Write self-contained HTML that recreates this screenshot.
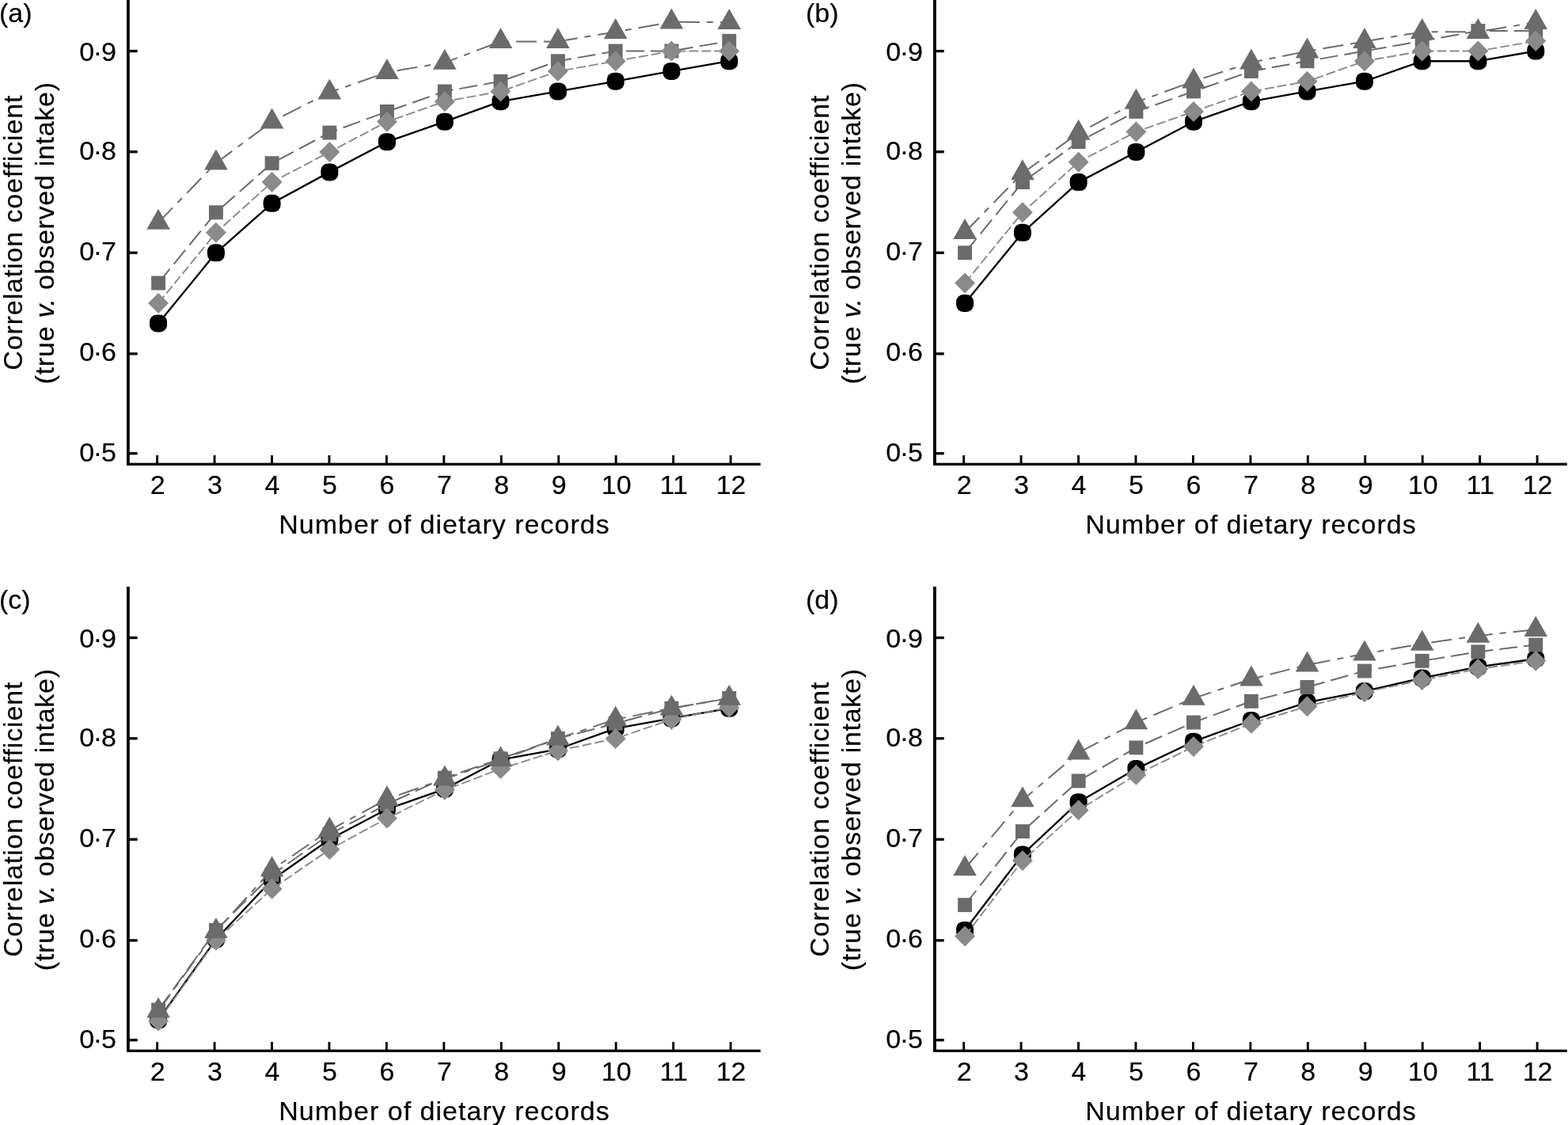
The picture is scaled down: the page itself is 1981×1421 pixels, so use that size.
<!DOCTYPE html>
<html><head><meta charset="utf-8"><title>Correlation coefficient vs number of dietary records</title>
<style>
html,body{margin:0;padding:0;background:#fff;}
body{width:1981px;height:1421px;overflow:hidden;}
svg{display:block;}
.t{font-family:'Liberation Sans', Arial, sans-serif;font-size:34px;fill:#000;stroke:#000;stroke-width:0.2px;}
</style></head><body>
<svg width="1981" height="1421" viewBox="0 0 1981 1421">
<rect width="1981" height="1421" fill="#fff"/>
<g transform="translate(0,0)">
<rect x="160" y="0" width="3.8" height="588" fill="#000"/>
<rect x="160" y="584.7" width="800.8" height="3.3" fill="#000"/>
<rect x="162" y="62.9" width="11.7" height="3.3" fill="#000"/>
<text x="146.8" y="76.6" text-anchor="end" class="t" textLength="46.6" lengthAdjust="spacing">0·9</text>
<rect x="162" y="190.1" width="11.7" height="3.3" fill="#000"/>
<text x="146.8" y="202.2" text-anchor="end" class="t" textLength="46.6" lengthAdjust="spacing">0·8</text>
<rect x="162" y="317.6" width="11.7" height="3.3" fill="#000"/>
<text x="146.8" y="329.4" text-anchor="end" class="t" textLength="46.6" lengthAdjust="spacing">0·7</text>
<rect x="162" y="445.2" width="11.7" height="3.3" fill="#000"/>
<text x="146.8" y="455.8" text-anchor="end" class="t" textLength="46.6" lengthAdjust="spacing">0·6</text>
<rect x="162" y="571.1" width="11.7" height="3.3" fill="#000"/>
<text x="146.8" y="582.7" text-anchor="end" class="t" textLength="46.6" lengthAdjust="spacing">0·5</text>
<rect x="197.15" y="575.1" width="2.9" height="10" fill="#000"/>
<text x="199.1" y="624" text-anchor="middle" class="t">2</text>
<rect x="269.6" y="575.1" width="2.9" height="10" fill="#000"/>
<text x="271.55" y="624" text-anchor="middle" class="t">3</text>
<rect x="342.05" y="575.1" width="2.9" height="10" fill="#000"/>
<text x="344" y="624" text-anchor="middle" class="t">4</text>
<rect x="414.5" y="575.1" width="2.9" height="10" fill="#000"/>
<text x="416.45" y="624" text-anchor="middle" class="t">5</text>
<rect x="486.95" y="575.1" width="2.9" height="10" fill="#000"/>
<text x="488.9" y="624" text-anchor="middle" class="t">6</text>
<rect x="559.4" y="575.1" width="2.9" height="10" fill="#000"/>
<text x="561.35" y="624" text-anchor="middle" class="t">7</text>
<rect x="631.85" y="575.1" width="2.9" height="10" fill="#000"/>
<text x="633.8" y="624" text-anchor="middle" class="t">8</text>
<rect x="704.3" y="575.1" width="2.9" height="10" fill="#000"/>
<text x="706.25" y="624" text-anchor="middle" class="t">9</text>
<rect x="776.75" y="575.1" width="2.9" height="10" fill="#000"/>
<text x="778.7" y="624" text-anchor="middle" class="t">10</text>
<rect x="849.2" y="575.1" width="2.9" height="10" fill="#000"/>
<text x="851.15" y="624" text-anchor="middle" class="t">11</text>
<rect x="921.65" y="575.1" width="2.9" height="10" fill="#000"/>
<text x="923.6" y="624" text-anchor="middle" class="t">12</text>
<text x="352.2" y="673.9" class="t" textLength="417.5" lengthAdjust="spacing">Number of dietary records</text>
<text transform="translate(28.2,467.7) rotate(-90)" class="t" textLength="347.2" lengthAdjust="spacing">Correlation coefficient</text>
<text transform="translate(68.3,485.2) rotate(-90)" class="t" textLength="381.2" lengthAdjust="spacing">(true <tspan font-style="italic">v.</tspan> observed intake)</text>
<text x="-1" y="28" class="t">(a)</text>
<polyline points="200.05,408.48 272.9,319.3 343.6,256.87 416.35,217.38 488.95,179.16 561.85,153.68 632.5,128.2 704.9,115.46 777.7,102.72 848.4,89.98 921.25,77.24" fill="none" stroke="#000" stroke-width="2.3" stroke-linejoin="round"/>
<rect x="189.05" y="397.48" width="22" height="22" rx="9" fill="#000"/>
<rect x="261.9" y="308.3" width="22" height="22" rx="9" fill="#000"/>
<rect x="332.6" y="245.87" width="22" height="22" rx="9" fill="#000"/>
<rect x="405.35" y="206.38" width="22" height="22" rx="9" fill="#000"/>
<rect x="477.95" y="168.16" width="22" height="22" rx="9" fill="#000"/>
<rect x="550.85" y="142.68" width="22" height="22" rx="9" fill="#000"/>
<rect x="621.5" y="117.2" width="22" height="22" rx="9" fill="#000"/>
<rect x="693.9" y="104.46" width="22" height="22" rx="9" fill="#000"/>
<rect x="766.7" y="91.72" width="22" height="22" rx="9" fill="#000"/>
<rect x="837.4" y="78.98" width="22" height="22" rx="9" fill="#000"/>
<rect x="910.25" y="66.24" width="22" height="22" rx="9" fill="#000"/>
<polyline points="200.05,357.52 272.9,268.34 343.6,206.17 416.35,167.57 488.95,140.94 561.85,115.46 632.5,102.72 704.9,77.24 777.7,64.5 848.4,64.5 921.25,51.76" fill="none" stroke="#6b6b6b" stroke-width="2" stroke-dasharray="23 8"/>
<rect x="191.1" y="348.57" width="17.9" height="17.9" fill="#6b6b6b"/>
<rect x="263.95" y="259.39" width="17.9" height="17.9" fill="#6b6b6b"/>
<rect x="334.65" y="197.22" width="17.9" height="17.9" fill="#6b6b6b"/>
<rect x="407.4" y="158.62" width="17.9" height="17.9" fill="#6b6b6b"/>
<rect x="480" y="131.99" width="17.9" height="17.9" fill="#6b6b6b"/>
<rect x="552.9" y="106.51" width="17.9" height="17.9" fill="#6b6b6b"/>
<rect x="623.55" y="93.77" width="17.9" height="17.9" fill="#6b6b6b"/>
<rect x="695.95" y="68.29" width="17.9" height="17.9" fill="#6b6b6b"/>
<rect x="768.75" y="55.55" width="17.9" height="17.9" fill="#6b6b6b"/>
<rect x="839.45" y="55.55" width="17.9" height="17.9" fill="#6b6b6b"/>
<rect x="912.3" y="42.81" width="17.9" height="17.9" fill="#6b6b6b"/>
<polyline points="200.05,383 272.9,293.82 343.6,230.12 416.35,191.9 488.95,153.68 561.85,128.2 632.5,115.46 704.9,89.98 777.7,77.24 848.4,64.5 921.25,64.5" fill="none" stroke="#8a8a8a" stroke-width="1.9" stroke-dasharray="12 4"/>
<path d="M200.05 370L213.05 383L200.05 396L187.05 383Z" fill="#8a8a8a"/>
<path d="M272.9 280.82L285.9 293.82L272.9 306.82L259.9 293.82Z" fill="#8a8a8a"/>
<path d="M343.6 217.12L356.6 230.12L343.6 243.12L330.6 230.12Z" fill="#8a8a8a"/>
<path d="M416.35 178.9L429.35 191.9L416.35 204.9L403.35 191.9Z" fill="#8a8a8a"/>
<path d="M488.95 140.68L501.95 153.68L488.95 166.68L475.95 153.68Z" fill="#8a8a8a"/>
<path d="M561.85 115.2L574.85 128.2L561.85 141.2L548.85 128.2Z" fill="#8a8a8a"/>
<path d="M632.5 102.46L645.5 115.46L632.5 128.46L619.5 115.46Z" fill="#8a8a8a"/>
<path d="M704.9 76.98L717.9 89.98L704.9 102.98L691.9 89.98Z" fill="#8a8a8a"/>
<path d="M777.7 64.24L790.7 77.24L777.7 90.24L764.7 77.24Z" fill="#8a8a8a"/>
<path d="M848.4 51.5L861.4 64.5L848.4 77.5L835.4 64.5Z" fill="#8a8a8a"/>
<path d="M921.25 51.5L934.25 64.5L921.25 77.5L908.25 64.5Z" fill="#8a8a8a"/>
<polyline points="200.05,281.08 272.9,205.91 343.6,153.68 416.35,116.73 488.95,91.25 561.85,79.15 632.5,52.4 704.9,52.4 777.7,40.29 848.4,27.81 921.25,28.19" fill="none" stroke="#6b6b6b" stroke-width="2" stroke-dasharray="26 9 8 9"/>
<path d="M200.05 263.78L214.85 289.78L185.25 289.78Z" fill="#6b6b6b"/>
<path d="M272.9 188.61L287.7 214.61L258.1 214.61Z" fill="#6b6b6b"/>
<path d="M343.6 136.38L358.4 162.38L328.8 162.38Z" fill="#6b6b6b"/>
<path d="M416.35 99.43L431.15 125.43L401.55 125.43Z" fill="#6b6b6b"/>
<path d="M488.95 73.95L503.75 99.95L474.15 99.95Z" fill="#6b6b6b"/>
<path d="M561.85 61.85L576.65 87.85L547.05 87.85Z" fill="#6b6b6b"/>
<path d="M632.5 35.1L647.3 61.1L617.7 61.1Z" fill="#6b6b6b"/>
<path d="M704.9 35.1L719.7 61.1L690.1 61.1Z" fill="#6b6b6b"/>
<path d="M777.7 22.99L792.5 48.99L762.9 48.99Z" fill="#6b6b6b"/>
<path d="M848.4 10.51L863.2 36.51L833.6 36.51Z" fill="#6b6b6b"/>
<path d="M921.25 10.89L936.05 36.89L906.45 36.89Z" fill="#6b6b6b"/>
</g>
<g transform="translate(1019,0)">
<rect x="160" y="0" width="3.8" height="588" fill="#000"/>
<rect x="160" y="584.7" width="800.8" height="3.3" fill="#000"/>
<rect x="162" y="62.9" width="11.7" height="3.3" fill="#000"/>
<text x="146.8" y="76.6" text-anchor="end" class="t" textLength="46.6" lengthAdjust="spacing">0·9</text>
<rect x="162" y="190.1" width="11.7" height="3.3" fill="#000"/>
<text x="146.8" y="202.2" text-anchor="end" class="t" textLength="46.6" lengthAdjust="spacing">0·8</text>
<rect x="162" y="317.6" width="11.7" height="3.3" fill="#000"/>
<text x="146.8" y="329.4" text-anchor="end" class="t" textLength="46.6" lengthAdjust="spacing">0·7</text>
<rect x="162" y="445.2" width="11.7" height="3.3" fill="#000"/>
<text x="146.8" y="455.8" text-anchor="end" class="t" textLength="46.6" lengthAdjust="spacing">0·6</text>
<rect x="162" y="571.1" width="11.7" height="3.3" fill="#000"/>
<text x="146.8" y="582.7" text-anchor="end" class="t" textLength="46.6" lengthAdjust="spacing">0·5</text>
<rect x="197.15" y="575.1" width="2.9" height="10" fill="#000"/>
<text x="199.1" y="624" text-anchor="middle" class="t">2</text>
<rect x="269.6" y="575.1" width="2.9" height="10" fill="#000"/>
<text x="271.55" y="624" text-anchor="middle" class="t">3</text>
<rect x="342.05" y="575.1" width="2.9" height="10" fill="#000"/>
<text x="344" y="624" text-anchor="middle" class="t">4</text>
<rect x="414.5" y="575.1" width="2.9" height="10" fill="#000"/>
<text x="416.45" y="624" text-anchor="middle" class="t">5</text>
<rect x="486.95" y="575.1" width="2.9" height="10" fill="#000"/>
<text x="488.9" y="624" text-anchor="middle" class="t">6</text>
<rect x="559.4" y="575.1" width="2.9" height="10" fill="#000"/>
<text x="561.35" y="624" text-anchor="middle" class="t">7</text>
<rect x="631.85" y="575.1" width="2.9" height="10" fill="#000"/>
<text x="633.8" y="624" text-anchor="middle" class="t">8</text>
<rect x="704.3" y="575.1" width="2.9" height="10" fill="#000"/>
<text x="706.25" y="624" text-anchor="middle" class="t">9</text>
<rect x="776.75" y="575.1" width="2.9" height="10" fill="#000"/>
<text x="778.7" y="624" text-anchor="middle" class="t">10</text>
<rect x="849.2" y="575.1" width="2.9" height="10" fill="#000"/>
<text x="851.15" y="624" text-anchor="middle" class="t">11</text>
<rect x="921.65" y="575.1" width="2.9" height="10" fill="#000"/>
<text x="923.6" y="624" text-anchor="middle" class="t">12</text>
<text x="352.2" y="673.9" class="t" textLength="417.5" lengthAdjust="spacing">Number of dietary records</text>
<text transform="translate(28.2,467.7) rotate(-90)" class="t" textLength="347.2" lengthAdjust="spacing">Correlation coefficient</text>
<text transform="translate(68.3,485.2) rotate(-90)" class="t" textLength="381.2" lengthAdjust="spacing">(true <tspan font-style="italic">v.</tspan> observed intake)</text>
<text x="-1" y="28" class="t">(b)</text>
<polyline points="200.05,383 272.9,293.82 343.6,230.12 416.35,191.9 488.95,153.68 561.85,128.2 632.5,115.46 704.9,102.72 777.7,77.24 848.4,77.24 921.25,64.5" fill="none" stroke="#000" stroke-width="2.3" stroke-linejoin="round"/>
<rect x="189.05" y="372" width="22" height="22" rx="9" fill="#000"/>
<rect x="261.9" y="282.82" width="22" height="22" rx="9" fill="#000"/>
<rect x="332.6" y="219.12" width="22" height="22" rx="9" fill="#000"/>
<rect x="405.35" y="180.9" width="22" height="22" rx="9" fill="#000"/>
<rect x="477.95" y="142.68" width="22" height="22" rx="9" fill="#000"/>
<rect x="550.85" y="117.2" width="22" height="22" rx="9" fill="#000"/>
<rect x="621.5" y="104.46" width="22" height="22" rx="9" fill="#000"/>
<rect x="693.9" y="91.72" width="22" height="22" rx="9" fill="#000"/>
<rect x="766.7" y="66.24" width="22" height="22" rx="9" fill="#000"/>
<rect x="837.4" y="66.24" width="22" height="22" rx="9" fill="#000"/>
<rect x="910.25" y="53.5" width="22" height="22" rx="9" fill="#000"/>
<polyline points="200.05,319.3 272.9,230.12 343.6,179.16 416.35,140.94 488.95,115.46 561.85,89.98 632.5,77.24 704.9,64.5 777.7,51.76 848.4,39.02 921.25,39.02" fill="none" stroke="#6b6b6b" stroke-width="2" stroke-dasharray="23 8"/>
<rect x="191.1" y="310.35" width="17.9" height="17.9" fill="#6b6b6b"/>
<rect x="263.95" y="221.17" width="17.9" height="17.9" fill="#6b6b6b"/>
<rect x="334.65" y="170.21" width="17.9" height="17.9" fill="#6b6b6b"/>
<rect x="407.4" y="131.99" width="17.9" height="17.9" fill="#6b6b6b"/>
<rect x="480" y="106.51" width="17.9" height="17.9" fill="#6b6b6b"/>
<rect x="552.9" y="81.03" width="17.9" height="17.9" fill="#6b6b6b"/>
<rect x="623.55" y="68.29" width="17.9" height="17.9" fill="#6b6b6b"/>
<rect x="695.95" y="55.55" width="17.9" height="17.9" fill="#6b6b6b"/>
<rect x="768.75" y="42.81" width="17.9" height="17.9" fill="#6b6b6b"/>
<rect x="839.45" y="30.07" width="17.9" height="17.9" fill="#6b6b6b"/>
<rect x="912.3" y="30.07" width="17.9" height="17.9" fill="#6b6b6b"/>
<polyline points="200.05,357.52 272.9,268.34 343.6,204.64 416.35,166.42 488.95,140.94 561.85,115.46 632.5,102.72 704.9,77.24 777.7,64.5 848.4,64.5 921.25,51.76" fill="none" stroke="#8a8a8a" stroke-width="1.9" stroke-dasharray="12 4"/>
<path d="M200.05 344.52L213.05 357.52L200.05 370.52L187.05 357.52Z" fill="#8a8a8a"/>
<path d="M272.9 255.34L285.9 268.34L272.9 281.34L259.9 268.34Z" fill="#8a8a8a"/>
<path d="M343.6 191.64L356.6 204.64L343.6 217.64L330.6 204.64Z" fill="#8a8a8a"/>
<path d="M416.35 153.42L429.35 166.42L416.35 179.42L403.35 166.42Z" fill="#8a8a8a"/>
<path d="M488.95 127.94L501.95 140.94L488.95 153.94L475.95 140.94Z" fill="#8a8a8a"/>
<path d="M561.85 102.46L574.85 115.46L561.85 128.46L548.85 115.46Z" fill="#8a8a8a"/>
<path d="M632.5 89.72L645.5 102.72L632.5 115.72L619.5 102.72Z" fill="#8a8a8a"/>
<path d="M704.9 64.24L717.9 77.24L704.9 90.24L691.9 77.24Z" fill="#8a8a8a"/>
<path d="M777.7 51.5L790.7 64.5L777.7 77.5L764.7 64.5Z" fill="#8a8a8a"/>
<path d="M848.4 51.5L861.4 64.5L848.4 77.5L835.4 64.5Z" fill="#8a8a8a"/>
<path d="M921.25 38.76L934.25 51.76L921.25 64.76L908.25 51.76Z" fill="#8a8a8a"/>
<polyline points="200.05,293.31 272.9,218.65 343.6,168.08 416.35,129.09 488.95,102.72 561.85,78.77 632.5,64.75 704.9,52.4 777.7,40.29 848.4,40.29 921.25,28.19" fill="none" stroke="#6b6b6b" stroke-width="2" stroke-dasharray="26 9 8 9"/>
<path d="M200.05 276.01L214.85 302.01L185.25 302.01Z" fill="#6b6b6b"/>
<path d="M272.9 201.35L287.7 227.35L258.1 227.35Z" fill="#6b6b6b"/>
<path d="M343.6 150.78L358.4 176.78L328.8 176.78Z" fill="#6b6b6b"/>
<path d="M416.35 111.79L431.15 137.79L401.55 137.79Z" fill="#6b6b6b"/>
<path d="M488.95 85.42L503.75 111.42L474.15 111.42Z" fill="#6b6b6b"/>
<path d="M561.85 61.47L576.65 87.47L547.05 87.47Z" fill="#6b6b6b"/>
<path d="M632.5 47.45L647.3 73.45L617.7 73.45Z" fill="#6b6b6b"/>
<path d="M704.9 35.1L719.7 61.1L690.1 61.1Z" fill="#6b6b6b"/>
<path d="M777.7 22.99L792.5 48.99L762.9 48.99Z" fill="#6b6b6b"/>
<path d="M848.4 22.99L863.2 48.99L833.6 48.99Z" fill="#6b6b6b"/>
<path d="M921.25 10.89L936.05 36.89L906.45 36.89Z" fill="#6b6b6b"/>
</g>
<g transform="translate(0,741)">
<rect x="160" y="0" width="3.8" height="588" fill="#000"/>
<rect x="160" y="584.7" width="800.8" height="3.3" fill="#000"/>
<rect x="162" y="62.9" width="11.7" height="3.3" fill="#000"/>
<text x="146.8" y="76.6" text-anchor="end" class="t" textLength="46.6" lengthAdjust="spacing">0·9</text>
<rect x="162" y="190.1" width="11.7" height="3.3" fill="#000"/>
<text x="146.8" y="202.2" text-anchor="end" class="t" textLength="46.6" lengthAdjust="spacing">0·8</text>
<rect x="162" y="317.6" width="11.7" height="3.3" fill="#000"/>
<text x="146.8" y="329.4" text-anchor="end" class="t" textLength="46.6" lengthAdjust="spacing">0·7</text>
<rect x="162" y="445.2" width="11.7" height="3.3" fill="#000"/>
<text x="146.8" y="455.8" text-anchor="end" class="t" textLength="46.6" lengthAdjust="spacing">0·6</text>
<rect x="162" y="571.1" width="11.7" height="3.3" fill="#000"/>
<text x="146.8" y="582.7" text-anchor="end" class="t" textLength="46.6" lengthAdjust="spacing">0·5</text>
<rect x="197.15" y="575.1" width="2.9" height="10" fill="#000"/>
<text x="199.1" y="624" text-anchor="middle" class="t">2</text>
<rect x="269.6" y="575.1" width="2.9" height="10" fill="#000"/>
<text x="271.55" y="624" text-anchor="middle" class="t">3</text>
<rect x="342.05" y="575.1" width="2.9" height="10" fill="#000"/>
<text x="344" y="624" text-anchor="middle" class="t">4</text>
<rect x="414.5" y="575.1" width="2.9" height="10" fill="#000"/>
<text x="416.45" y="624" text-anchor="middle" class="t">5</text>
<rect x="486.95" y="575.1" width="2.9" height="10" fill="#000"/>
<text x="488.9" y="624" text-anchor="middle" class="t">6</text>
<rect x="559.4" y="575.1" width="2.9" height="10" fill="#000"/>
<text x="561.35" y="624" text-anchor="middle" class="t">7</text>
<rect x="631.85" y="575.1" width="2.9" height="10" fill="#000"/>
<text x="633.8" y="624" text-anchor="middle" class="t">8</text>
<rect x="704.3" y="575.1" width="2.9" height="10" fill="#000"/>
<text x="706.25" y="624" text-anchor="middle" class="t">9</text>
<rect x="776.75" y="575.1" width="2.9" height="10" fill="#000"/>
<text x="778.7" y="624" text-anchor="middle" class="t">10</text>
<rect x="849.2" y="575.1" width="2.9" height="10" fill="#000"/>
<text x="851.15" y="624" text-anchor="middle" class="t">11</text>
<rect x="921.65" y="575.1" width="2.9" height="10" fill="#000"/>
<text x="923.6" y="624" text-anchor="middle" class="t">12</text>
<text x="352.2" y="673.9" class="t" textLength="417.5" lengthAdjust="spacing">Number of dietary records</text>
<text transform="translate(28.2,467.7) rotate(-90)" class="t" textLength="347.2" lengthAdjust="spacing">Correlation coefficient</text>
<text transform="translate(68.3,485.2) rotate(-90)" class="t" textLength="381.2" lengthAdjust="spacing">(true <tspan font-style="italic">v.</tspan> observed intake)</text>
<text x="-1" y="28" class="t">(c)</text>
<polyline points="200.05,547.35 272.9,445.43 343.6,370.26 416.35,319.3 488.95,281.08 561.85,255.6 632.5,218.65 704.9,205.28 777.7,179.16 848.4,166.42 921.25,153.68" fill="none" stroke="#000" stroke-width="2.3" stroke-linejoin="round"/>
<rect x="189.05" y="536.35" width="22" height="22" rx="9" fill="#000"/>
<rect x="261.9" y="434.43" width="22" height="22" rx="9" fill="#000"/>
<rect x="332.6" y="359.26" width="22" height="22" rx="9" fill="#000"/>
<rect x="405.35" y="308.3" width="22" height="22" rx="9" fill="#000"/>
<rect x="477.95" y="270.08" width="22" height="22" rx="9" fill="#000"/>
<rect x="550.85" y="244.6" width="22" height="22" rx="9" fill="#000"/>
<rect x="621.5" y="207.65" width="22" height="22" rx="9" fill="#000"/>
<rect x="693.9" y="194.28" width="22" height="22" rx="9" fill="#000"/>
<rect x="766.7" y="168.16" width="22" height="22" rx="9" fill="#000"/>
<rect x="837.4" y="155.42" width="22" height="22" rx="9" fill="#000"/>
<rect x="910.25" y="142.68" width="22" height="22" rx="9" fill="#000"/>
<polyline points="200.05,534.61 272.9,433.96 343.6,363.89 416.35,312.93 488.95,274.71 561.85,241.59 632.5,217.38 704.9,191.9 777.7,172.79 848.4,153.68 921.25,140.94" fill="none" stroke="#6b6b6b" stroke-width="2" stroke-dasharray="23 8"/>
<rect x="191.1" y="525.66" width="17.9" height="17.9" fill="#6b6b6b"/>
<rect x="263.95" y="425.01" width="17.9" height="17.9" fill="#6b6b6b"/>
<rect x="334.65" y="354.94" width="17.9" height="17.9" fill="#6b6b6b"/>
<rect x="407.4" y="303.98" width="17.9" height="17.9" fill="#6b6b6b"/>
<rect x="480" y="265.76" width="17.9" height="17.9" fill="#6b6b6b"/>
<rect x="552.9" y="232.64" width="17.9" height="17.9" fill="#6b6b6b"/>
<rect x="623.55" y="208.43" width="17.9" height="17.9" fill="#6b6b6b"/>
<rect x="695.95" y="182.95" width="17.9" height="17.9" fill="#6b6b6b"/>
<rect x="768.75" y="163.84" width="17.9" height="17.9" fill="#6b6b6b"/>
<rect x="839.45" y="144.73" width="17.9" height="17.9" fill="#6b6b6b"/>
<rect x="912.3" y="131.99" width="17.9" height="17.9" fill="#6b6b6b"/>
<polyline points="200.05,548.62 272.9,446.7 343.6,381.73 416.35,332.04 488.95,292.55 561.85,256.87 632.5,230.12 704.9,207.19 777.7,191.9 848.4,167.69 921.25,152.41" fill="none" stroke="#8a8a8a" stroke-width="1.9" stroke-dasharray="12 4"/>
<path d="M200.05 535.62L213.05 548.62L200.05 561.62L187.05 548.62Z" fill="#8a8a8a"/>
<path d="M272.9 433.7L285.9 446.7L272.9 459.7L259.9 446.7Z" fill="#8a8a8a"/>
<path d="M343.6 368.73L356.6 381.73L343.6 394.73L330.6 381.73Z" fill="#8a8a8a"/>
<path d="M416.35 319.04L429.35 332.04L416.35 345.04L403.35 332.04Z" fill="#8a8a8a"/>
<path d="M488.95 279.55L501.95 292.55L488.95 305.55L475.95 292.55Z" fill="#8a8a8a"/>
<path d="M561.85 243.87L574.85 256.87L561.85 269.87L548.85 256.87Z" fill="#8a8a8a"/>
<path d="M632.5 217.12L645.5 230.12L632.5 243.12L619.5 230.12Z" fill="#8a8a8a"/>
<path d="M704.9 194.19L717.9 207.19L704.9 220.19L691.9 207.19Z" fill="#8a8a8a"/>
<path d="M777.7 178.9L790.7 191.9L777.7 204.9L764.7 191.9Z" fill="#8a8a8a"/>
<path d="M848.4 154.69L861.4 167.69L848.4 180.69L835.4 167.69Z" fill="#8a8a8a"/>
<path d="M921.25 139.41L934.25 152.41L921.25 165.41L908.25 152.41Z" fill="#8a8a8a"/>
<polyline points="200.05,535.88 272.9,435.23 343.6,357.52 416.35,307.83 488.95,268.34 561.85,242.86 632.5,218.65 704.9,191.9 777.7,167.69 848.4,153.68 921.25,140.94" fill="none" stroke="#6b6b6b" stroke-width="2" stroke-dasharray="26 9 8 9"/>
<path d="M200.05 518.58L214.85 544.58L185.25 544.58Z" fill="#6b6b6b"/>
<path d="M272.9 417.93L287.7 443.93L258.1 443.93Z" fill="#6b6b6b"/>
<path d="M343.6 340.22L358.4 366.22L328.8 366.22Z" fill="#6b6b6b"/>
<path d="M416.35 290.53L431.15 316.53L401.55 316.53Z" fill="#6b6b6b"/>
<path d="M488.95 251.04L503.75 277.04L474.15 277.04Z" fill="#6b6b6b"/>
<path d="M561.85 225.56L576.65 251.56L547.05 251.56Z" fill="#6b6b6b"/>
<path d="M632.5 201.35L647.3 227.35L617.7 227.35Z" fill="#6b6b6b"/>
<path d="M704.9 174.6L719.7 200.6L690.1 200.6Z" fill="#6b6b6b"/>
<path d="M777.7 150.39L792.5 176.39L762.9 176.39Z" fill="#6b6b6b"/>
<path d="M848.4 136.38L863.2 162.38L833.6 162.38Z" fill="#6b6b6b"/>
<path d="M921.25 123.64L936.05 149.64L906.45 149.64Z" fill="#6b6b6b"/>
</g>
<g transform="translate(1019,741)">
<rect x="160" y="0" width="3.8" height="588" fill="#000"/>
<rect x="160" y="584.7" width="800.8" height="3.3" fill="#000"/>
<rect x="162" y="62.9" width="11.7" height="3.3" fill="#000"/>
<text x="146.8" y="76.6" text-anchor="end" class="t" textLength="46.6" lengthAdjust="spacing">0·9</text>
<rect x="162" y="190.1" width="11.7" height="3.3" fill="#000"/>
<text x="146.8" y="202.2" text-anchor="end" class="t" textLength="46.6" lengthAdjust="spacing">0·8</text>
<rect x="162" y="317.6" width="11.7" height="3.3" fill="#000"/>
<text x="146.8" y="329.4" text-anchor="end" class="t" textLength="46.6" lengthAdjust="spacing">0·7</text>
<rect x="162" y="445.2" width="11.7" height="3.3" fill="#000"/>
<text x="146.8" y="455.8" text-anchor="end" class="t" textLength="46.6" lengthAdjust="spacing">0·6</text>
<rect x="162" y="571.1" width="11.7" height="3.3" fill="#000"/>
<text x="146.8" y="582.7" text-anchor="end" class="t" textLength="46.6" lengthAdjust="spacing">0·5</text>
<rect x="197.15" y="575.1" width="2.9" height="10" fill="#000"/>
<text x="199.1" y="624" text-anchor="middle" class="t">2</text>
<rect x="269.6" y="575.1" width="2.9" height="10" fill="#000"/>
<text x="271.55" y="624" text-anchor="middle" class="t">3</text>
<rect x="342.05" y="575.1" width="2.9" height="10" fill="#000"/>
<text x="344" y="624" text-anchor="middle" class="t">4</text>
<rect x="414.5" y="575.1" width="2.9" height="10" fill="#000"/>
<text x="416.45" y="624" text-anchor="middle" class="t">5</text>
<rect x="486.95" y="575.1" width="2.9" height="10" fill="#000"/>
<text x="488.9" y="624" text-anchor="middle" class="t">6</text>
<rect x="559.4" y="575.1" width="2.9" height="10" fill="#000"/>
<text x="561.35" y="624" text-anchor="middle" class="t">7</text>
<rect x="631.85" y="575.1" width="2.9" height="10" fill="#000"/>
<text x="633.8" y="624" text-anchor="middle" class="t">8</text>
<rect x="704.3" y="575.1" width="2.9" height="10" fill="#000"/>
<text x="706.25" y="624" text-anchor="middle" class="t">9</text>
<rect x="776.75" y="575.1" width="2.9" height="10" fill="#000"/>
<text x="778.7" y="624" text-anchor="middle" class="t">10</text>
<rect x="849.2" y="575.1" width="2.9" height="10" fill="#000"/>
<text x="851.15" y="624" text-anchor="middle" class="t">11</text>
<rect x="921.65" y="575.1" width="2.9" height="10" fill="#000"/>
<text x="923.6" y="624" text-anchor="middle" class="t">12</text>
<text x="352.2" y="673.9" class="t" textLength="417.5" lengthAdjust="spacing">Number of dietary records</text>
<text transform="translate(28.2,467.7) rotate(-90)" class="t" textLength="347.2" lengthAdjust="spacing">Correlation coefficient</text>
<text transform="translate(68.3,485.2) rotate(-90)" class="t" textLength="381.2" lengthAdjust="spacing">(true <tspan font-style="italic">v.</tspan> observed intake)</text>
<text x="-1" y="28" class="t">(d)</text>
<polyline points="200.05,433.96 272.9,338.41 343.6,272.16 416.35,230.12 488.95,195.72 561.85,168.97 632.5,146.04 704.9,132.02 777.7,115.46 848.4,101.45 921.25,91.25" fill="none" stroke="#000" stroke-width="2.3" stroke-linejoin="round"/>
<rect x="189.05" y="422.96" width="22" height="22" rx="9" fill="#000"/>
<rect x="261.9" y="327.41" width="22" height="22" rx="9" fill="#000"/>
<rect x="332.6" y="261.16" width="22" height="22" rx="9" fill="#000"/>
<rect x="405.35" y="219.12" width="22" height="22" rx="9" fill="#000"/>
<rect x="477.95" y="184.72" width="22" height="22" rx="9" fill="#000"/>
<rect x="550.85" y="157.97" width="22" height="22" rx="9" fill="#000"/>
<rect x="621.5" y="135.04" width="22" height="22" rx="9" fill="#000"/>
<rect x="693.9" y="121.02" width="22" height="22" rx="9" fill="#000"/>
<rect x="766.7" y="104.46" width="22" height="22" rx="9" fill="#000"/>
<rect x="837.4" y="90.45" width="22" height="22" rx="9" fill="#000"/>
<rect x="910.25" y="80.25" width="22" height="22" rx="9" fill="#000"/>
<polyline points="200.05,402.11 272.9,309.11 343.6,245.41 416.35,203.37 488.95,171.52 561.85,144.76 632.5,126.93 704.9,106.54 777.7,93.8 848.4,82.34 921.25,73.42" fill="none" stroke="#6b6b6b" stroke-width="2" stroke-dasharray="23 8"/>
<rect x="191.1" y="393.16" width="17.9" height="17.9" fill="#6b6b6b"/>
<rect x="263.95" y="300.16" width="17.9" height="17.9" fill="#6b6b6b"/>
<rect x="334.65" y="236.46" width="17.9" height="17.9" fill="#6b6b6b"/>
<rect x="407.4" y="194.42" width="17.9" height="17.9" fill="#6b6b6b"/>
<rect x="480" y="162.57" width="17.9" height="17.9" fill="#6b6b6b"/>
<rect x="552.9" y="135.81" width="17.9" height="17.9" fill="#6b6b6b"/>
<rect x="623.55" y="117.98" width="17.9" height="17.9" fill="#6b6b6b"/>
<rect x="695.95" y="97.59" width="17.9" height="17.9" fill="#6b6b6b"/>
<rect x="768.75" y="84.85" width="17.9" height="17.9" fill="#6b6b6b"/>
<rect x="839.45" y="73.39" width="17.9" height="17.9" fill="#6b6b6b"/>
<rect x="912.3" y="64.47" width="17.9" height="17.9" fill="#6b6b6b"/>
<polyline points="200.05,441.6 272.9,346.05 343.6,282.35 416.35,237.76 488.95,202.09 561.85,172.79 632.5,151.13 704.9,133.3 777.7,118.01 848.4,103.99 921.25,93.8" fill="none" stroke="#8a8a8a" stroke-width="1.9" stroke-dasharray="12 4"/>
<path d="M200.05 428.6L213.05 441.6L200.05 454.6L187.05 441.6Z" fill="#8a8a8a"/>
<path d="M272.9 333.05L285.9 346.05L272.9 359.05L259.9 346.05Z" fill="#8a8a8a"/>
<path d="M343.6 269.35L356.6 282.35L343.6 295.35L330.6 282.35Z" fill="#8a8a8a"/>
<path d="M416.35 224.76L429.35 237.76L416.35 250.76L403.35 237.76Z" fill="#8a8a8a"/>
<path d="M488.95 189.09L501.95 202.09L488.95 215.09L475.95 202.09Z" fill="#8a8a8a"/>
<path d="M561.85 159.79L574.85 172.79L561.85 185.79L548.85 172.79Z" fill="#8a8a8a"/>
<path d="M632.5 138.13L645.5 151.13L632.5 164.13L619.5 151.13Z" fill="#8a8a8a"/>
<path d="M704.9 120.3L717.9 133.3L704.9 146.3L691.9 133.3Z" fill="#8a8a8a"/>
<path d="M777.7 105.01L790.7 118.01L777.7 131.01L764.7 118.01Z" fill="#8a8a8a"/>
<path d="M848.4 90.99L861.4 103.99L848.4 116.99L835.4 103.99Z" fill="#8a8a8a"/>
<path d="M921.25 80.8L934.25 93.8L921.25 106.8L908.25 93.8Z" fill="#8a8a8a"/>
<polyline points="200.05,356.25 272.9,269.61 343.6,209.74 416.35,171.52 488.95,140.94 561.85,116.73 632.5,98.9 704.9,84.88 777.7,72.14 848.4,61.95 921.25,54.31" fill="none" stroke="#6b6b6b" stroke-width="2" stroke-dasharray="26 9 8 9"/>
<path d="M200.05 338.95L214.85 364.95L185.25 364.95Z" fill="#6b6b6b"/>
<path d="M272.9 252.31L287.7 278.31L258.1 278.31Z" fill="#6b6b6b"/>
<path d="M343.6 192.44L358.4 218.44L328.8 218.44Z" fill="#6b6b6b"/>
<path d="M416.35 154.22L431.15 180.22L401.55 180.22Z" fill="#6b6b6b"/>
<path d="M488.95 123.64L503.75 149.64L474.15 149.64Z" fill="#6b6b6b"/>
<path d="M561.85 99.43L576.65 125.43L547.05 125.43Z" fill="#6b6b6b"/>
<path d="M632.5 81.6L647.3 107.6L617.7 107.6Z" fill="#6b6b6b"/>
<path d="M704.9 67.58L719.7 93.58L690.1 93.58Z" fill="#6b6b6b"/>
<path d="M777.7 54.84L792.5 80.84L762.9 80.84Z" fill="#6b6b6b"/>
<path d="M848.4 44.65L863.2 70.65L833.6 70.65Z" fill="#6b6b6b"/>
<path d="M921.25 37.01L936.05 63.01L906.45 63.01Z" fill="#6b6b6b"/>
</g>
</svg>
</body></html>
